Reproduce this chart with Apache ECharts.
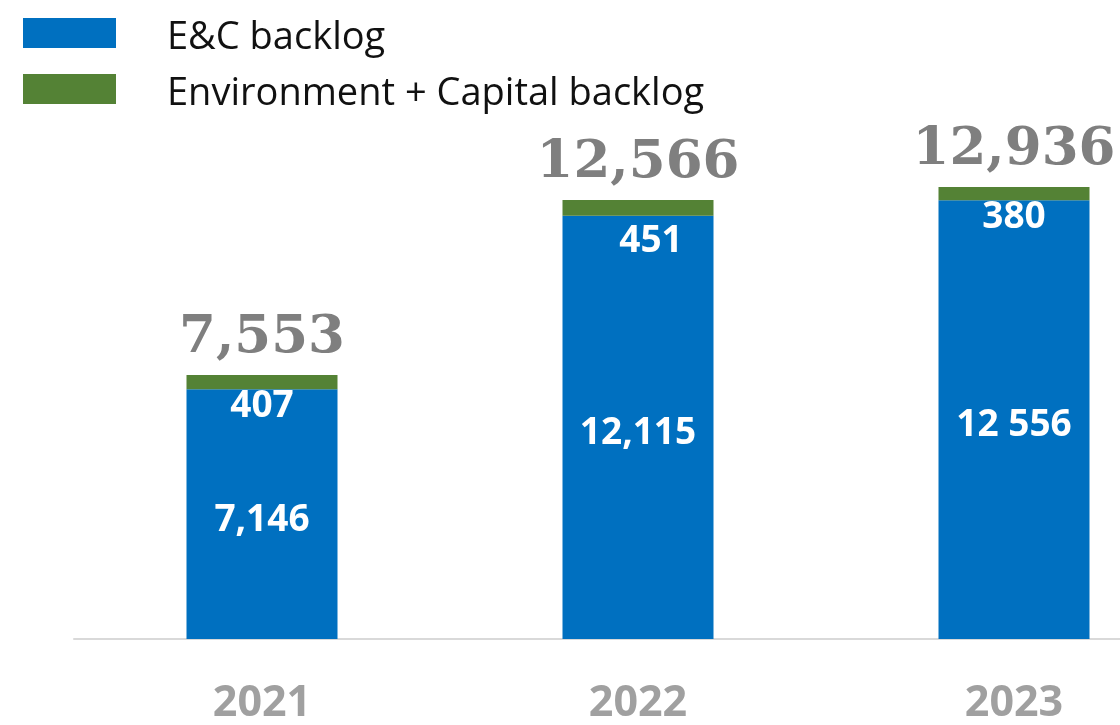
<!DOCTYPE html>
<html>
<head>
<meta charset="utf-8">
<script src="https://cdn.jsdelivr.net/npm/echarts@6/dist/echarts.min.js"></script>
<style>
  html, body { margin: 0; padding: 0; background: #fff; overflow: hidden; }
  /* 图表比窗口宽，右侧被裁掉，与原图一致 */
  #main { width: 1202px; height: 725px; }
</style>
</head>
<body>
<div id="main"></div>
<script>
// 数据
var years = ["2021", "2022", "2023"];
var ecBacklog = [7146, 12115, 12556];
var envCapBacklog = [407, 451, 380];
var totals = [7553, 12566, 12936];
var ecLabels = ["7,146", "12,115", "12 556"];
var totalLabels = ["7,553", "12,566", "12,936"];

// 绿色数值标签的微调（2022 年的标签偏右）
var envLabelShift = [[0, 0], [13, 8], [0, 0]];

var myChart = echarts.init(document.getElementById("main"));

myChart.setOption({
  animation: false,
  legend: {
    data: ["E&C backlog", "Environment + Capital backlog"],
    orient: "vertical",
    left: 18,
    top: 13,
    itemWidth: 93,
    itemHeight: 40,
    itemGap: 16,
    // 色块在上，下方留空，让文字比色块略低
    icon: "path://M0,0L93,0L93,30L0,30Z M0,40L0,40",
    textStyle: {
      fontFamily: "Open Sans",
      fontSize: 38,
      color: "#111",
      padding: [0, 0, 0, 46]
    }
  },
  grid: {
    left: 74,
    right: 0,
    top: 10,
    bottom: 82
  },
  xAxis: {
    type: "category",
    data: years,
    axisTick: { show: false },
    axisLine: { lineStyle: { color: "#d9d9d9", width: 2 } },
    axisLabel: {
      margin: 43,
      fontFamily: "Open Sans",
      fontWeight: "bold",
      fontSize: 43,
      color: "#a0a0a0"
    }
  },
  yAxis: {
    type: "value",
    min: 0,
    max: 18000,
    show: false
  },
  series: [
    {
      name: "E&C backlog",
      type: "bar",
      stack: "total",
      barWidth: 151,
      itemStyle: { color: "#0070c0" },
      label: {
        show: true,
        position: "inside",
        offset: [0, 6],
        fontFamily: "Open Sans",
        fontWeight: "bold",
        fontSize: 37,
        color: "#fff",
        formatter: function (p) { return ecLabels[p.dataIndex]; }
      },
      data: ecBacklog
    },
    {
      name: "Environment + Capital backlog",
      type: "bar",
      stack: "total",
      itemStyle: { color: "#548235" },
      label: {
        show: true,
        position: "bottom",
        distance: -1,
        fontFamily: "Open Sans",
        fontWeight: "bold",
        fontSize: 37,
        color: "#fff"
      },
      data: envCapBacklog.map(function (v, i) {
        return { value: v, label: { offset: envLabelShift[i] } };
      })
    },
    {
      // 总数标签
      name: "total",
      type: "bar",
      stack: "total",
      itemStyle: { color: "transparent" },
      label: {
        show: true,
        position: "top",
        distance: 10,
        fontFamily: "DejaVu Serif",
        fontWeight: "bold",
        fontSize: 53,
        color: "#7f7f7f",
        formatter: function (p) { return totalLabels[p.dataIndex]; }
      },
      data: totals.map(function () { return 0; })
    }
  ]
});
</script>
</body>
</html>
